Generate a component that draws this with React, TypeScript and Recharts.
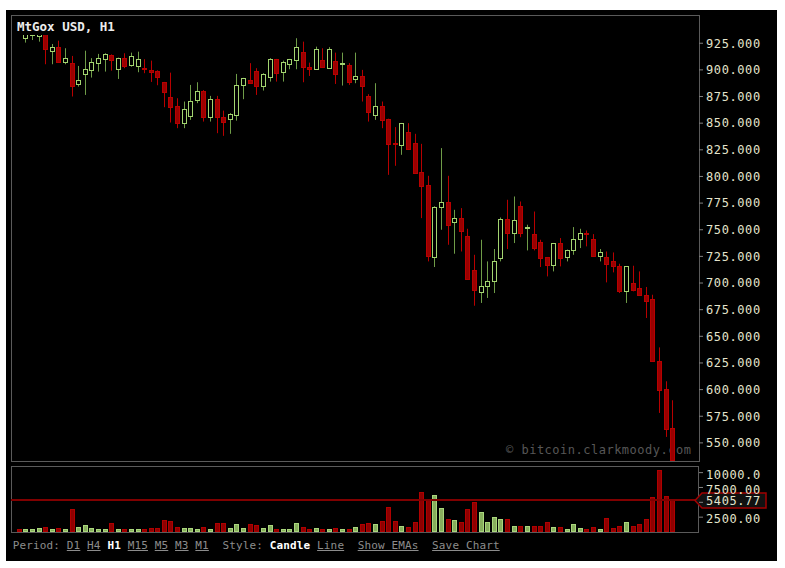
import React from 'react';
import { ComposedChart, Bar, XAxis, YAxis, ReferenceLine } from 'recharts';

const OPEN = [944, 930, 933, 931.8, 936, 917.5, 921.3, 907.8, 906.3, 886.6, 895.9, 900, 906.8, 910, 914, 900.6, 911, 904.7, 904, 901.6, 900, 899.3, 888.4, 874.4, 866.2, 850.6, 856.8, 871.8, 880.6, 855.6, 872.5, 855.6, 853.8, 857.8, 885.9, 890.6, 899.3, 885.3, 893.7, 910, 897.8, 905.3, 909.3, 917.1, 902.5, 901, 909.3, 902.1, 908.7, 905.3, 904.7, 891.3, 894.3, 875.9, 857.8, 866.5, 854, 831.5, 829.7, 841.6, 831.3, 804.6, 792.2, 724.4, 771.3, 775.9, 756.8, 760.9, 743.7, 711.8, 691.6, 696.8, 701.5, 723.4, 760, 747.4, 772.5, 751.5, 745.9, 738.4, 724, 717.2, 737.5, 724, 730.6, 741.3, 746.6, 741.5, 725, 724.4, 720.3, 716.2, 692.8, 700, 695.3, 689, 685.3, 627.2, 600.6, 564.1];
const HIGH = [948, 942, 943, 940, 940, 924.3, 927.4, 920.3, 913.1, 903.7, 918, 911, 915, 915.6, 914.5, 911.5, 915.6, 916.2, 917.1, 910, 908.7, 899.6, 888.7, 897.4, 873.4, 870.3, 885.9, 888.4, 881, 875.6, 875.6, 861.8, 859.4, 896.2, 892.5, 906.3, 901.6, 896.9, 911, 910.3, 908.7, 910.3, 929.7, 926.5, 906.8, 921.8, 920.3, 921.3, 916.2, 916.2, 906.3, 916.2, 900, 877.2, 887.5, 870.3, 854.2, 846.3, 850.2, 850, 840, 830.6, 800.6, 772, 826.6, 800.6, 768.7, 770.3, 750.9, 726.5, 740.6, 720.3, 731.9, 761.5, 778.1, 781.2, 776.5, 754.7, 767.1, 740.6, 724.2, 737.6, 742.2, 731.4, 752.5, 750.9, 749.3, 745.9, 731.9, 729.6, 728.7, 718.1, 715.6, 716.2, 710.9, 696.3, 689, 639.6, 607.8, 590];
const LOW = [934, 925.6, 928, 926.5, 905.3, 905.3, 906.8, 905.3, 875, 884.3, 876.5, 892.8, 898.4, 898.4, 899.3, 891.5, 901.6, 903, 897.8, 896.9, 888.7, 885.6, 865, 850.6, 845.3, 845.3, 853.1, 868.8, 851.5, 851.5, 840.6, 838.1, 840, 852.4, 872.5, 887.2, 876.5, 880.6, 889, 889, 889, 900.6, 900.6, 888.4, 894.3, 900, 902.3, 902, 886.8, 885.3, 885.9, 887.5, 870.3, 851.5, 853.1, 845.3, 801.5, 810, 820.3, 825.3, 803, 760.9, 720.3, 715, 750, 735.9, 727.5, 729.6, 703, 678.7, 681.3, 686, 690.6, 720.3, 731.9, 737.5, 743, 730.6, 730.6, 715, 706.2, 710.9, 715.6, 720.3, 726.5, 732.8, 734.4, 724.4, 720.3, 700.6, 710, 690.6, 681.3, 692.2, 688, 667.2, 626, 578.1, 555.6, 533];
const CLOSE = [936, 938, 939, 937, 919.7, 921.3, 907.8, 911, 885.3, 890.6, 900.6, 907.8, 911, 915, 909.3, 911, 903.7, 913.1, 910, 900.6, 897.8, 893.7, 879.6, 865.6, 850.6, 863.1, 870.9, 880.6, 855.6, 872.5, 855.6, 851.5, 858.7, 885.9, 892.2, 887.5, 885.3, 896.2, 910, 897.4, 907.8, 910, 921.3, 902.5, 901, 919.4, 902.5, 919.4, 895.9, 906.8, 888.4, 894.3, 885.3, 860.9, 866.5, 853.1, 830.6, 830.5, 850, 825.6, 803.1, 790.6, 725, 771.8, 775.9, 754.7, 760.9, 748.4, 703.8, 693.7, 697.5, 701.5, 720.9, 760.3, 747.4, 759.4, 746.9, 752.6, 732.8, 723.4, 717.2, 737.5, 723.4, 731.2, 741.5, 746.9, 745.6, 725.6, 729.1, 717.8, 715.6, 692.8, 715.6, 693.7, 688.4, 683.4, 626.5, 599.3, 563.4, 533.5];
const VOLUME = [558, 558, 558, 725, 893, 558, 725, 558, 3906, 893, 1116, 725, 558, 558, 1507, 558, 558, 558, 558, 558, 725, 725, 2065, 1841, 893, 725, 725, 558, 893, 558, 1507, 1507, 725, 1283, 725, 1283, 1116, 725, 1116, 558, 558, 558, 1507, 893, 558, 725, 558, 558, 725, 558, 558, 893, 1283, 1507, 1283, 1841, 4185, 1841, 1060, 837, 1618, 6752, 5413, 6250, 4018, 2176, 1953, 1618, 3850, 5078, 3292, 1618, 2511, 2176, 2176, 1060, 1060, 1060, 1060, 1060, 1618, 837, 837, 502, 1283, 670, 502, 837, 502, 2344, 670, 1060, 1618, 1060, 1283, 2176, 5859, 10435, 6082, 5405.77];
const LAST_VOLUME = 5405.77;
const PRICE_TICKS = [550, 575, 600, 625, 650, 675, 700, 725, 750, 775, 800, 825, 850, 875, 900, 925];
const VOLUME_TICKS = [2500, 5000, 7500, 10000];
const TITLE = 'MtGox USD, H1';
const WATERMARK = '\u00a9 bitcoin.clarkmoody.com';

const data = OPEN.map((o, i) => ({
  i,
  o,
  h: HIGH[i],
  l: LOW[i],
  c: CLOSE[i],
  range: [LOW[i], HIGH[i]],
  vol: VOLUME[i],
  up: CLOSE[i] >= o,
}));

const MONO = "'DejaVu Sans Mono', monospace";
const LABEL_COLOR = '#e4e4cc';
const GREEN_LINE = '#a3d470';
const GREEN_WICK = '#6f9c48';
const RED_FILL = '#9a0000';
const RED_LINE = '#b80000';

function Candle(props: any) {
  const { x, y, width, height, payload } = props;
  if (x == null || y == null || !payload) return null;
  const top = Math.min(y, y + height);
  const hpx = Math.abs(height);
  const { o, c, h, l, up } = payload;
  const ppu = h > l ? hpx / (h - l) : 0;
  const k = Math.floor(x + width / 2);
  const cx = k + 0.5;
  let y0 = Math.round(top + (h - Math.max(o, c)) * ppu) + 0.5;
  let y1 = Math.round(top + (h - Math.min(o, c)) * ppu) + 0.5;
  if (y1 - y0 < 1) y1 = y0 + 1;
  return (
    <g>
      <line x1={cx} x2={cx} y1={top} y2={top + hpx} stroke={up ? GREEN_WICK : RED_LINE} strokeWidth={1} />
      <rect x={k - 1.5} y={y0} width={4} height={y1 - y0} fill={up ? '#000' : RED_FILL} stroke={up ? GREEN_LINE : RED_LINE} strokeWidth={1} />
    </g>
  );
}

function VolBar(props: any) {
  const { x, y, width, height, payload } = props;
  if (x == null || y == null || !payload) return null;
  const top = Math.min(y, y + height);
  const hpx = Math.abs(height);
  const k = Math.floor(x + width / 2);
  const up = payload.up;
  return (
    <rect x={k - 1.5} y={Math.round(top) + 0.5} width={4} height={Math.max(1, Math.round(hpx) - 1)} fill={up ? '#87ae5d' : '#8e0000'} stroke={up ? '#a9d67c' : '#b00000'} strokeWidth={1} />
  );
}

function PriceTick(props: any) {
  const { x, y, payload } = props;
  return (
    <text x={x} y={y} dy="0.36em" textAnchor="start" fill={LABEL_COLOR} fontFamily={MONO} fontSize={12} style={{ letterSpacing: '0.6px' }}>
      {Number(payload.value).toFixed(3)}
    </text>
  );
}

function VolTick(props: any) {
  const { x, y, payload } = props;
  const v = Number(payload.value);
  // the tick at the current-volume marker sits underneath the marker box
  if (Math.abs(v - LAST_VOLUME) < 1000) return null;
  const s = v >= 10000 ? v.toFixed(1) : v.toFixed(2);
  return (
    <text x={x} y={y + 2} dy="0.36em" textAnchor="start" fill={LABEL_COLOR} fontFamily={MONO} fontSize={12} style={{ letterSpacing: '0.6px' }}>
      {s}
    </text>
  );
}

function VolLabel(props: any) {
  const vb = props.viewBox || {};
  const ax = (vb.x || 0) + (vb.width || 0) - 4;
  const y = Math.round(vb.y || 0) + 0.5;
  const pts = `${ax},${y} ${ax + 7},${y - 7.5} ${ax + 71},${y - 7.5} ${ax + 71},${y + 7.5} ${ax + 7},${y + 7.5}`;
  return (
    <g>
      <polygon points={pts} fill="#111" stroke="#a00000" strokeWidth={1.5} />
      <text x={ax + 11} y={y} dy="0.36em" fill={LABEL_COLOR} fontFamily={MONO} fontSize={12} style={{ letterSpacing: '0.6px' }}>
        {LAST_VOLUME.toFixed(2)}
      </text>
    </g>
  );
}

const PAD = { left: 5.2, right: 22.8 };

export default function App() {
  return (
    <div style={{ position: 'absolute', left: 0, top: 0, width: 785, height: 568, background: '#fff', overflow: 'hidden' }}>
      <div style={{ position: 'absolute', left: 6, top: 10, width: 771, height: 551, background: '#000' }} />
      <div style={{ position: 'absolute', left: 11, top: 15, width: 689, height: 447, boxSizing: 'border-box', border: '1px solid #5a5a5a' }} />
      <div style={{ position: 'absolute', left: 11, top: 466, width: 688, height: 67, boxSizing: 'border-box', border: '1px solid #5a5a5a' }} />
      <div style={{ position: 'absolute', left: 506, top: 442, fontFamily: MONO, fontSize: 12, letterSpacing: '0.5px', color: '#575757', whiteSpace: 'pre', lineHeight: '16px' }}>{WATERMARK}</div>
      <div style={{ position: 'absolute', left: 0, top: 0 }}>
        <ComposedChart width={785} height={470} data={data} margin={{ top: 15, right: 6, bottom: 9, left: 11 }}>
          <XAxis dataKey="i" type="category" hide padding={PAD} />
          <YAxis orientation="right" width={80} domain={[533, 951.5]} allowDataOverflow ticks={PRICE_TICKS} interval={0} axisLine={false} tickLine={{ stroke: '#808080' }} tickSize={4} tickMargin={3} tick={<PriceTick />} />
          <Bar dataKey="range" barSize={6} isAnimationActive={false} shape={(p: any) => <Candle {...p} />} />
        </ComposedChart>
      </div>
      <div style={{ position: 'absolute', left: 12, top: 16, width: 110, height: 19, background: '#000' }} />
      <div style={{ position: 'absolute', left: 17, top: 19, fontFamily: MONO, fontWeight: 'bold', fontSize: 12.5, color: '#ececec', whiteSpace: 'pre', lineHeight: '16px' }}>{TITLE}</div>
      <div style={{ position: 'absolute', left: 0, top: 460 }}>
        <ComposedChart width={785} height={80} data={data} margin={{ top: 7, right: 6, bottom: 8, left: 11 }}>
          <XAxis dataKey="i" type="category" hide padding={PAD} />
          <YAxis orientation="right" width={80} domain={[0, 10950]} allowDataOverflow ticks={VOLUME_TICKS} interval={0} axisLine={false} tickLine={{ stroke: '#808080' }} tickSize={4} tickMargin={3} tick={<VolTick />} />
          <Bar dataKey="vol" barSize={6} isAnimationActive={false} shape={(p: any) => <VolBar {...p} />} />
          <ReferenceLine y={LAST_VOLUME} stroke="#800000" strokeWidth={2} label={<VolLabel />} />
        </ComposedChart>
      </div>
      <div style={{ position: 'absolute', left: 12.7, top: 539, fontFamily: MONO, fontSize: 11, letterSpacing: '0.14px', color: '#8c8c8c', whiteSpace: 'pre', lineHeight: '14px' }}>
        <span>Period: </span>
        <span style={{ textDecoration: 'underline' }}>D1</span> <span style={{ textDecoration: 'underline' }}>H4</span>{' '}
        <span style={{ color: '#fff', fontWeight: 'bold' }}>H1</span>{' '}
        <span style={{ textDecoration: 'underline' }}>M15</span> <span style={{ textDecoration: 'underline' }}>M5</span>{' '}
        <span style={{ textDecoration: 'underline' }}>M3</span> <span style={{ textDecoration: 'underline' }}>M1</span>
        <span>{'  Style: '}</span>
        <span style={{ color: '#fff', fontWeight: 'bold' }}>Candle</span> <span style={{ textDecoration: 'underline' }}>Line</span>
        <span>{'  '}</span>
        <span style={{ textDecoration: 'underline' }}>Show EMAs</span>
        <span>{'  '}</span>
        <span style={{ textDecoration: 'underline' }}>Save Chart</span>
      </div>
    </div>
  );
}
